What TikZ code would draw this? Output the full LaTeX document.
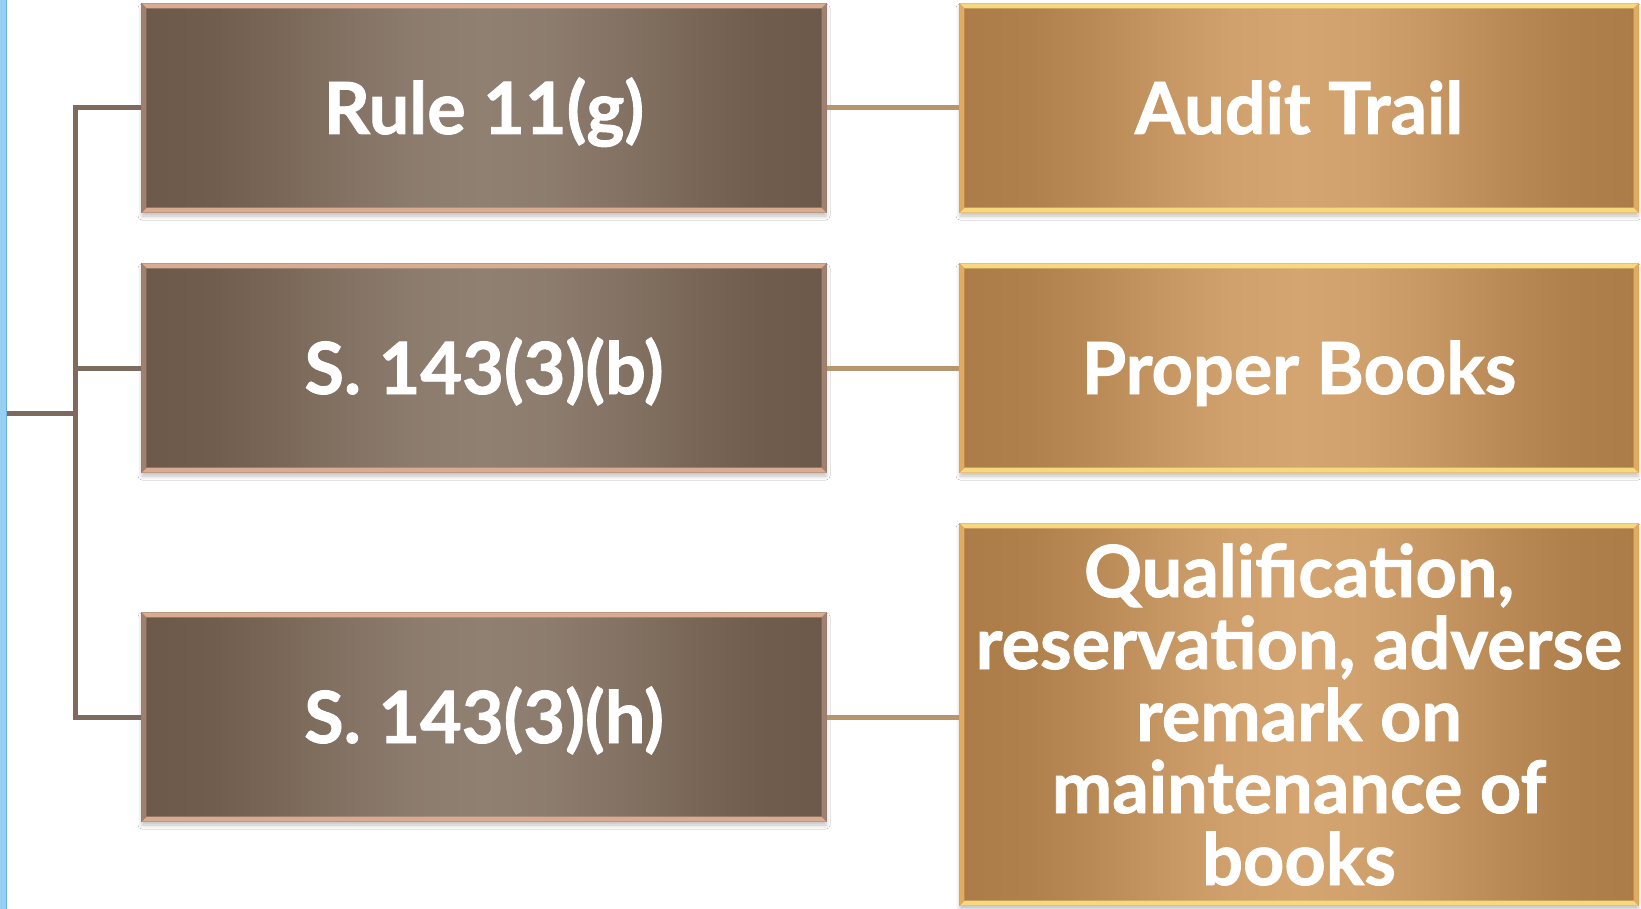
\documentclass[tikz,border=0pt]{standalone}
\usepackage{fontspec}
\setmainfont{Lato}[BoldFeatures={FakeBold=1.2}]
\usetikzlibrary{shadows.blur}
\definecolor{lboxedge}{HTML}{6D5949}
\definecolor{lboxmid}{HTML}{908072}
\definecolor{lboxouter}{HTML}{8A7365}
\definecolor{rboxedge}{HTML}{AC7C48}
\definecolor{rboxmid}{HTML}{D4A570}
\definecolor{rboxouter}{HTML}{CF9A56}
\definecolor{lbevh}{HTML}{D9AC91}
\definecolor{lbevv}{HTML}{A08171}
\definecolor{rbevh}{HTML}{F6D87E}
\definecolor{rbevv}{HTML}{E2AB60}
\definecolor{treecol}{HTML}{7D6B5F}
\definecolor{conncol}{HTML}{B8966D}
\definecolor{rootblue}{HTML}{96CFF2}
\definecolor{rootedge}{HTML}{6CAEDD}
\pgfdeclarehorizontalshading{lshade}{100bp}{color(0bp)=(lboxedge); color(25bp)=(lboxedge); color(30bp)=(lboxmid!10!lboxedge);
  color(35bp)=(lboxmid!35!lboxedge); color(40bp)=(lboxmid!65!lboxedge); color(45bp)=(lboxmid!90!lboxedge);
  color(50bp)=(lboxmid); color(55bp)=(lboxmid!90!lboxedge); color(60bp)=(lboxmid!65!lboxedge);
  color(65bp)=(lboxmid!35!lboxedge); color(70bp)=(lboxmid!10!lboxedge); color(75bp)=(lboxedge); color(100bp)=(lboxedge)}
\pgfdeclarehorizontalshading{rshade}{100bp}{color(0bp)=(rboxedge); color(25bp)=(rboxedge); color(30bp)=(rboxmid!10!rboxedge);
  color(35bp)=(rboxmid!35!rboxedge); color(40bp)=(rboxmid!65!rboxedge); color(45bp)=(rboxmid!90!rboxedge);
  color(50bp)=(rboxmid); color(55bp)=(rboxmid!90!rboxedge); color(60bp)=(rboxmid!65!rboxedge);
  color(65bp)=(rboxmid!35!rboxedge); color(70bp)=(rboxmid!10!rboxedge); color(75bp)=(rboxedge); color(100bp)=(rboxedge)}
\begin{document}
\begin{tikzpicture}[x=1pt,y=-1pt,
  boxbase/.style={rectangle, inner sep=0pt, line width=1.2pt, text=white,
    font=\bfseries\fontsize{72}{72}\selectfont,
    blur shadow={shadow xshift=0pt, shadow yshift=-4pt, shadow opacity=25, shadow blur radius=4pt}},
  oneline/.style={text height=60pt, text depth=8pt},
  lbox/.style={boxbase, oneline, minimum width=684pt, minimum height=208pt,
    shading=lshade, draw=lboxouter},
  rbox/.style={boxbase, minimum width=678pt, minimum height=208pt,
    shading=rshade, draw=rboxouter},
  rootbox/.style={rectangle, minimum width=108pt, minimum height=940pt, inner sep=0pt,
    fill=rootblue, draw=rootedge, line width=1pt},
  tree/.style={draw=treecol, line width=5pt},
  conn/.style={draw=conncol, line width=5pt},
]
\useasboundingbox (0,0) rectangle (1641,909);
\fill[white] (0,0) rectangle (1641,909);

% parent box edge at far left
\node[rootbox] (root) at (-48,454) {};

% left boxes
\node[lbox] (L1) at (484,108) {Rule 11(g)};
\node[lbox] (L2) at (484,368) {S. 143(3)(b)};
\node[lbox] (L3) at (484,717) {S. 143(3)(h)};

% right boxes
\node[rbox, oneline] (R1) at (1299,108) {Audit Trail};
\node[rbox, oneline] (R2) at (1299,368) {Proper Books};
\node[rbox, minimum height=381pt, align=center] (R3) at (1299,714.5)
  {Qualification,\\reservation, adverse\\remark on\\maintenance of\\books};

% bevel frames
\foreach \n/\h/\v in {L1/lbevh/lbevv, L2/lbevh/lbevv, L3/lbevh/lbevv,
                      R1/rbevh/rbevv, R2/rbevh/rbevv, R3/rbevh/rbevv} {
  \fill[\h] (\n.north west) -- (\n.north east) -- ([shift={(-5pt,-5pt)}]\n.north east)
     -- ([shift={(5pt,-5pt)}]\n.north west) -- cycle;
  \fill[\h] (\n.south west) -- (\n.south east) -- ([shift={(-5pt,5pt)}]\n.south east)
     -- ([shift={(5pt,5pt)}]\n.south west) -- cycle;
  \fill[\v] (\n.north west) -- (\n.south west) -- ([shift={(5pt,5pt)}]\n.south west)
     -- ([shift={(5pt,-5pt)}]\n.north west) -- cycle;
  \fill[\v] (\n.north east) -- (\n.south east) -- ([shift={(-5pt,5pt)}]\n.south east)
     -- ([shift={(-5pt,-5pt)}]\n.north east) -- cycle;
}

% tree connectors
\coordinate (J) at (75,413);
\draw[tree] (root.east |- J) -- (J);
\draw[tree] (J) |- (L1.west);
\draw[tree] (J) |- (L2.west);
\draw[tree] (J) |- (L3.west);

% left-to-right connectors
\draw[conn] (L1.east) -- (L1.east -| R1.west);
\draw[conn] (L2.east) -- (L2.east -| R2.west);
\draw[conn] (L3.east) -- (L3.east -| R3.west);
\end{tikzpicture}
\end{document}
